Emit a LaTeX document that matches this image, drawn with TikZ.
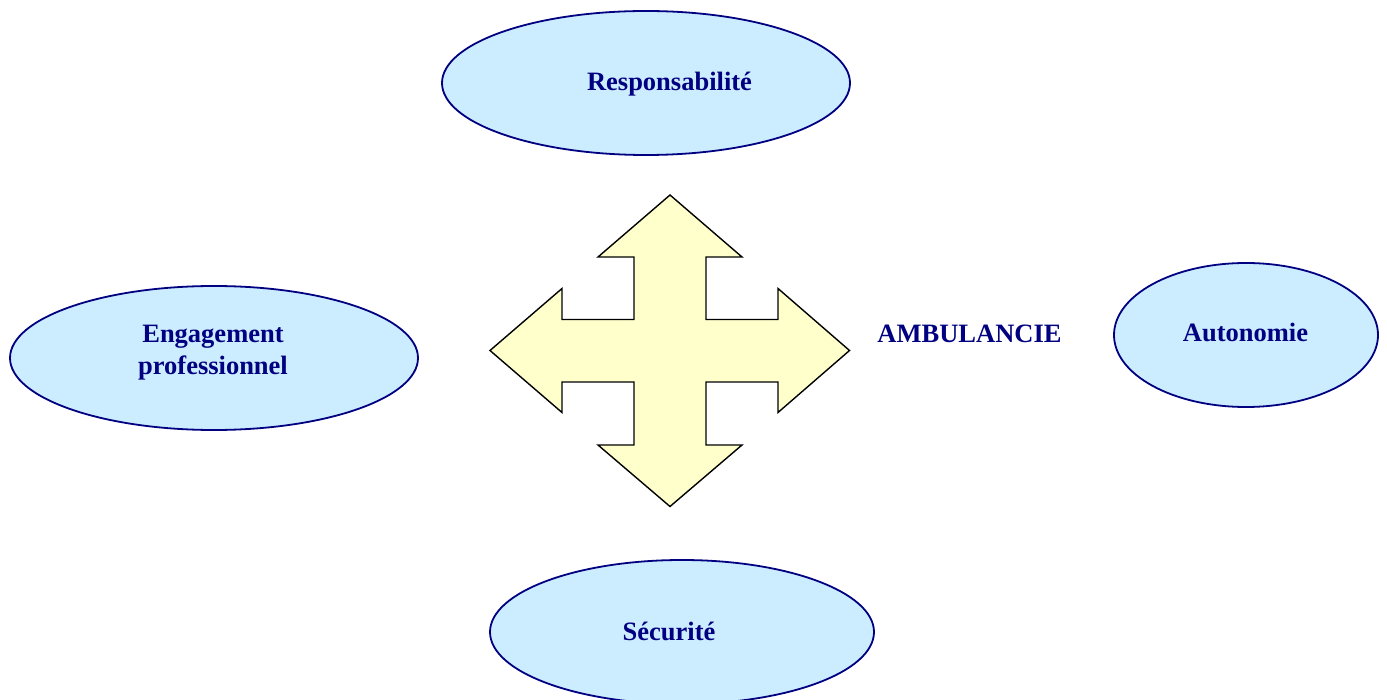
\documentclass[tikz,border=0pt]{standalone}
\usepackage{fontspec}
\setmainfont{Liberation Serif}
\usetikzlibrary{shapes.geometric}
\definecolor{navy}{HTML}{000080}
\definecolor{bubble}{HTML}{CCECFF}
\definecolor{crossfill}{HTML}{FFFFCC}
\tikzset{
  bubble/.style={ellipse, draw=navy, fill=bubble, line width=1.8pt, inner sep=0pt},
  lbl/.style={text=navy, font=\fontsize{26.5}{32}\selectfont\bfseries, anchor=base, inner sep=0pt, align=center},
  crossshape/.style={draw=black, fill=crossfill, line width=1.4pt, line join=miter}
}
\begin{document}
\begin{tikzpicture}[x=1pt,y=-1pt]
\useasboundingbox (0,0) rectangle (1387,700);
% ellipses
\node[bubble, minimum width=408pt, minimum height=144pt] (resp) at (646,83) {};
\node[bubble, minimum width=408pt, minimum height=144pt] (eng) at (214,358) {};
\node[bubble, minimum width=264pt, minimum height=144pt] (auto) at (1246,335) {};
\node[bubble, minimum width=384pt, minimum height=144pt] (secu) at (682,632) {};
% cross arrow
\draw[crossshape] (670,195) -- (742,257) -- (706,257) -- (706,319.5) -- (778,319.5) -- (778,288.5)
  -- (849.5,350.5) -- (778,412.5) -- (778,382) -- (706,382) -- (706,445) -- (742,445)
  -- (670,506.5) -- (598,445) -- (634,445) -- (634,382) -- (562,382) -- (562,412.5)
  -- (490,350.5) -- (562,288.5) -- (562,319.5) -- (634,319.5) -- (634,257) -- (598,257) -- cycle;
% labels
\node[lbl] (tresp) at (669.5,90.7) {Responsabilité};
\node[lbl, anchor=base] (teng1) at (213,343) {Engagement};
\node[lbl, anchor=base] (teng2) at (213,375) {professionnel};
\node[lbl] (tauto) at (1245.5,342) {Autonomie};
\node[lbl] (tsecu) at (669,640.7) {Sécurité};
\node[lbl] (tamb) at (969.5,343) {AMBULANCIE};
\end{tikzpicture}
\end{document}
